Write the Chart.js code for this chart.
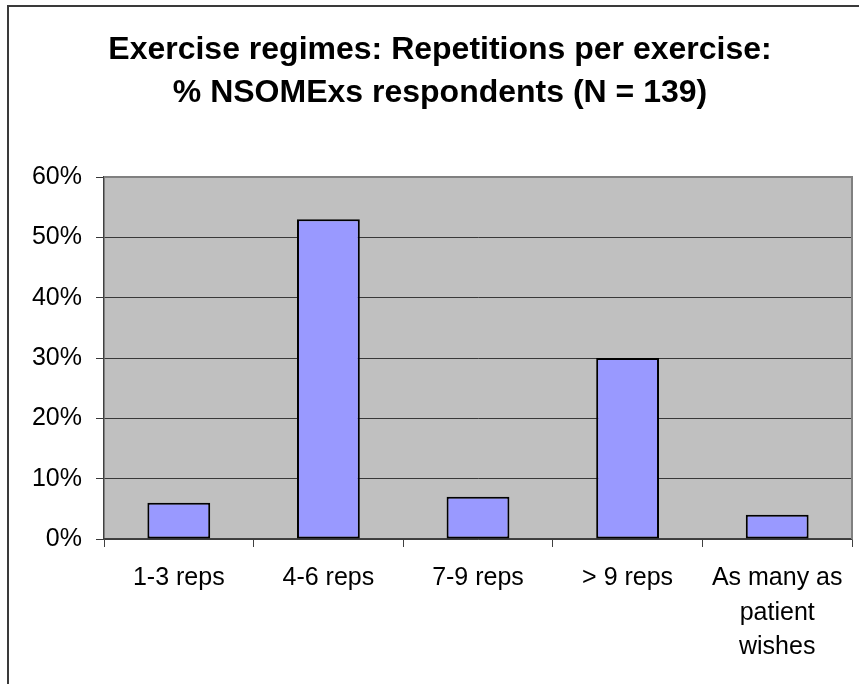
<!DOCTYPE html>
<html>
<head>
<meta charset="utf-8">
<script src="https://cdn.jsdelivr.net/npm/chart.js@4"></script>
<style>
  html, body { margin:0; padding:0; background:#fff; overflow:hidden; }
  #frame { position:absolute; left:7px; top:5px; width:900px; height:720px; border:2px solid #3a3a3a; }
  #wrap { position:absolute; left:0; top:0; width:859px; height:684px; }
</style>
</head>
<body>
<div id="frame"></div>
<div id="wrap"><canvas id="barChart" width="859" height="684"></canvas></div>
<script>
const categories = ['1-3 reps', '4-6 reps', '7-9 reps', '> 9 reps', ['As many as', 'patient', 'wishes']];
const percents = [0.06, 0.53, 0.07, 0.30, 0.04];
const yTicks = [0, 0.1, 0.2, 0.3, 0.4, 0.5, 0.6];

const plotBg = {
  id: 'plotBg',
  beforeDraw(chart) {
    const a = chart.chartArea, c = chart.ctx;
    c.save();
    c.fillStyle = '#c0c0c0';
    c.fillRect(a.left, a.top, a.right - a.left, a.bottom - a.top);
    c.restore();
  },
  afterDatasetsDraw(chart) {
    const a = chart.chartArea, c = chart.ctx;
    c.save();
    c.strokeStyle = '#808080';
    c.lineWidth = 2;
    c.beginPath();
    c.moveTo(a.left, a.top); c.lineTo(a.right, a.top); c.lineTo(a.right, a.bottom);
    c.stroke();
    c.restore();
  }
};

const ctx = document.getElementById('barChart').getContext('2d');
new Chart(ctx, {
  type: 'bar',
  data: {
    labels: categories,
    datasets: [{
      data: percents,
      backgroundColor: '#9999ff',
      borderColor: '#000',
      borderWidth: 2,
      borderSkipped: false,
      barPercentage: 0.42,
      categoryPercentage: 1
    }]
  },
  plugins: [plotBg],
  options: {
    responsive: false,
    animation: false,
    layout: { padding: { left: 28, right: 7, top: 0, bottom: 0 } },
    plugins: {
      legend: { display: false },
      tooltip: { enabled: false },
      title: {
        display: true,
        text: ['Exercise regimes: Repetitions per exercise:', '% NSOMExs respondents (N = 139)'],
        color: '#000',
        font: { family: "'Liberation Sans', Arial, sans-serif", size: 32, weight: 'bold', lineHeight: 1.33 },
        padding: { top: 29, bottom: 63 }
      }
    },
    scales: {
      x: {
        afterFit: s => { s.height = 145; },
        grid: { offset: true, drawOnChartArea: false, color: '#404040', tickLength: 8, lineWidth: 1 },
        border: { color: '#404040', width: 1.5 },
        ticks: {
          color: '#000', padding: 14, maxRotation: 0, autoSkip: false,
          font: { family: "'Liberation Sans', Arial, sans-serif", size: 25, lineHeight: 1.38 }
        }
      },
      y: {
        min: 0, max: 0.6,
        afterFit: s => { s.width = 76; },
        afterBuildTicks: s => { s.ticks = yTicks.map(v => ({ value: v })); },
        grid: { color: '#383838', tickLength: 8, lineWidth: 1 },
        border: { color: '#404040', width: 1.5 },
        ticks: {
          color: '#000', padding: 14,
          font: { family: "'Liberation Sans', Arial, sans-serif", size: 25 },
          callback: v => Math.round(v * 100) + '%'
        }
      }
    }
  }
});
</script>
</body>
</html>
